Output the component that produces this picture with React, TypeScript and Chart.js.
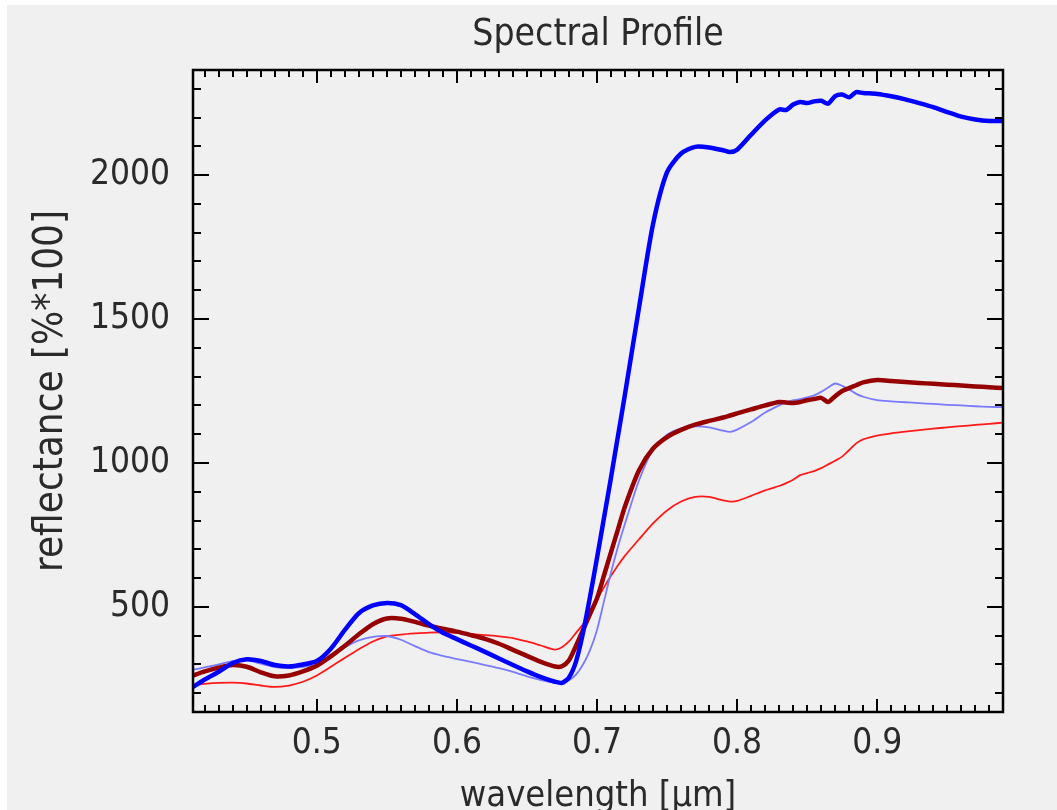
import React, { useEffect, useRef } from 'react';
import { Chart, registerables } from 'chart.js';

Chart.register(...registerables);

// wavelength samples [µm]
const WAVELENGTHS = [
  0.4116, 0.42, 0.43, 0.44, 0.45, 0.46, 0.47, 0.48, 0.49, 0.50,
  0.51, 0.52, 0.53, 0.54, 0.55, 0.56, 0.57, 0.58, 0.59, 0.60,
  0.61, 0.62, 0.63, 0.64, 0.65, 0.66, 0.67, 0.675, 0.68, 0.685,
  0.69, 0.695, 0.70, 0.705, 0.71, 0.715, 0.72, 0.73, 0.74, 0.75,
  0.76, 0.77, 0.78, 0.79, 0.795, 0.80, 0.81, 0.82, 0.83, 0.835,
  0.84, 0.845, 0.85, 0.855, 0.86, 0.865, 0.87, 0.875, 0.88, 0.885,
  0.89, 0.90, 0.91, 0.92, 0.93, 0.94, 0.95, 0.96, 0.97, 0.98, 0.9898,
];

// thick blue profile
const BLUE_BOLD = [
  222, 248, 275, 305, 318, 312, 298, 293, 300, 312,
  355, 420, 478, 505, 514, 506, 475, 440, 410, 388,
  366, 344, 321, 298, 276, 256, 240, 236, 255, 310,
  410, 535, 670, 810, 950, 1095, 1240, 1540, 1830, 2010,
  2075, 2098, 2096, 2086, 2080, 2088, 2140, 2190, 2228, 2226,
  2245, 2254, 2250, 2256, 2258, 2248, 2274, 2280, 2270, 2288,
  2285, 2282, 2274, 2263, 2250, 2236, 2219, 2203, 2193, 2188, 2188,
];

// thin light-blue profile
const BLUE_THIN = [
  282, 290, 300, 312, 314, 303, 291, 288, 292, 300,
  330, 360, 384, 396, 399, 386, 364, 343, 330, 319,
  309, 298, 287, 274, 259, 246, 237, 236, 245, 265,
  300, 350, 420, 520, 620, 710, 790, 940, 1048, 1098,
  1120, 1127, 1124, 1112, 1108, 1116, 1142, 1175, 1200, 1210,
  1218, 1222, 1228, 1235, 1247, 1262, 1276, 1268, 1255, 1240,
  1230, 1218, 1214, 1211, 1208, 1205, 1202, 1200, 1197, 1195, 1194,
];

// thick dark-red profile
const RED_BOLD = [
  262, 276, 289, 298, 292, 273, 259, 262, 276, 296,
  328, 365, 405, 440, 460, 459, 448, 435, 424, 414,
  402, 389, 372, 351, 330, 309, 293, 294, 315, 365,
  420, 475, 530, 610, 690, 770, 850, 975, 1050, 1090,
  1115, 1133, 1146, 1158, 1165, 1172, 1186, 1200, 1212, 1210,
  1208, 1212, 1218, 1222, 1226, 1212, 1232, 1250, 1260, 1270,
  1280, 1288, 1285, 1281, 1278, 1275, 1272, 1269, 1266, 1263, 1260,
];

// thin red profile
const RED_THIN = [
  229, 233, 236, 237, 234, 227, 222, 227, 240, 262,
  292, 323, 353, 380, 398, 404, 408, 411, 412, 410,
  406, 402, 398, 392, 380, 366, 352, 360, 380, 410,
  440, 478, 525, 568, 608, 645, 678, 735, 790, 835,
  866, 882, 882, 870, 866, 868, 886, 905, 920, 930,
  942, 958, 965, 972, 982, 995, 1008, 1022, 1045, 1068,
  1082, 1095, 1103, 1109, 1114, 1119, 1124, 1128, 1132, 1136, 1140,
];

const X_TICKS = [0.5, 0.6, 0.7, 0.8, 0.9];
const Y_TICKS = [500, 1000, 1500, 2000];
const X_MIN = 0.4116;
const X_MAX = 0.9898;
const Y_MIN = 135;
const Y_MAX = 2365;

const TITLE = 'Spectral Profile';
const X_TITLE = 'wavelength [µm]';
const Y_TITLE = 'reflectance [%*100]';

const FONT = "'DejaVu Sans Condensed', 'DejaVu Sans', sans-serif";
const TEXT_COLOR = '#2a2a2a';

const toPoints = (vals: number[]) => WAVELENGTHS.map((w, i) => ({ x: w, y: vals[i] }));

const frameTicksPlugin = {
  id: 'frameTicks',
  afterDatasetsDraw(chart: any) {
    const { ctx, chartArea: a, scales } = chart;
    const xs = scales.x;
    const ys = scales.y;
    ctx.save();
    ctx.strokeStyle = '#000000';
    ctx.lineWidth = 2;
    ctx.beginPath();
    const k0 = Math.ceil(X_MIN * 100);
    const k1 = Math.floor(X_MAX * 100);
    for (let k = k0; k <= k1; k++) {
      const px = Math.round(xs.getPixelForValue(k / 100));
      const len = k % 10 === 0 ? 13 : 7;
      ctx.moveTo(px, a.bottom);
      ctx.lineTo(px, a.bottom - len);
      ctx.moveTo(px, a.top);
      ctx.lineTo(px, a.top + len);
    }
    const j0 = Math.ceil(Y_MIN / 100);
    const j1 = Math.floor(Y_MAX / 100);
    for (let j = j0; j <= j1; j++) {
      const py = Math.round(ys.getPixelForValue(j * 100));
      const len = j % 5 === 0 ? 16 : 8;
      ctx.moveTo(a.left, py);
      ctx.lineTo(a.left + len, py);
      ctx.moveTo(a.right, py);
      ctx.lineTo(a.right - len, py);
    }
    ctx.stroke();
    ctx.lineWidth = 2.5;
    ctx.strokeRect(a.left, a.top, a.right - a.left, a.bottom - a.top);
    ctx.restore();
  },
};

export default function App() {
  const ref = useRef<HTMLCanvasElement>(null);

  useEffect(() => {
    const chart = new Chart(ref.current as HTMLCanvasElement, {
      type: 'line',
      data: {
        datasets: [
          { data: toPoints(BLUE_BOLD), borderColor: '#0000ff', borderWidth: 4.5 },
          { data: toPoints(RED_BOLD), borderColor: '#960000', borderWidth: 4.5 },
          { data: toPoints(BLUE_THIN), borderColor: '#7a7aff', borderWidth: 1.8 },
          { data: toPoints(RED_THIN), borderColor: '#ff1a1a', borderWidth: 1.8 },
        ] as any,
      },
      options: {
        responsive: false,
        animation: false,
        parsing: false as any,
        elements: {
          point: { radius: 0 },
          line: { tension: 0.25, fill: false },
        },
        layout: { padding: { left: 0, right: 54, top: 0, bottom: 0 } },
        plugins: {
          legend: { display: false },
          tooltip: { enabled: false },
          title: {
            display: true,
            text: TITLE,
            fullSize: false,
            color: TEXT_COLOR,
            font: { family: FONT, size: 37, weight: 'normal' },
            padding: { top: 8, bottom: 12.6 },
          },
        },
        scales: {
          x: {
            type: 'linear',
            position: 'bottom',
            min: X_MIN,
            max: X_MAX,
            afterBuildTicks: (s: any) => {
              s.ticks = X_TICKS.map((v) => ({ value: v }));
            },
            afterFit: (s: any) => {
              s.height = 98;
            },
            grid: { display: false, drawTicks: false },
            border: { display: false },
            ticks: {
              color: TEXT_COLOR,
              font: { family: FONT, size: 35 },
              padding: 11,
              autoSkip: false,
              maxRotation: 0,
              callback: (v: any) => Number(v).toFixed(1),
            },
            title: {
              display: true,
              text: X_TITLE,
              color: TEXT_COLOR,
              font: { family: FONT, size: 36 },
              padding: { top: 0, bottom: -8 },
            },
          },
          y: {
            type: 'linear',
            position: 'left',
            min: Y_MIN,
            max: Y_MAX,
            afterBuildTicks: (s: any) => {
              s.ticks = Y_TICKS.map((v) => ({ value: v }));
            },
            afterFit: (s: any) => {
              s.width = 186;
            },
            grid: { display: false, drawTicks: false },
            border: { display: false },
            ticks: {
              color: TEXT_COLOR,
              font: { family: FONT, size: 35 },
              padding: 23,
              autoSkip: false,
              callback: (v: any) => String(v),
            },
            title: {
              display: true,
              text: Y_TITLE,
              color: TEXT_COLOR,
              font: { family: FONT, size: 40 },
              padding: { top: 21, bottom: 0 },
            },
          },
        },
      },
      plugins: [frameTicksPlugin],
    });
    return () => chart.destroy();
  }, []);

  return (
    <div
      style={{
        position: 'absolute',
        left: 7,
        top: 5,
        width: 1050,
        height: 805,
        background: '#f0f0f0',
      }}
    >
      <canvas ref={ref} width={1050} height={805} style={{ display: 'block', width: 1050, height: 805 }} />
    </div>
  );
}
